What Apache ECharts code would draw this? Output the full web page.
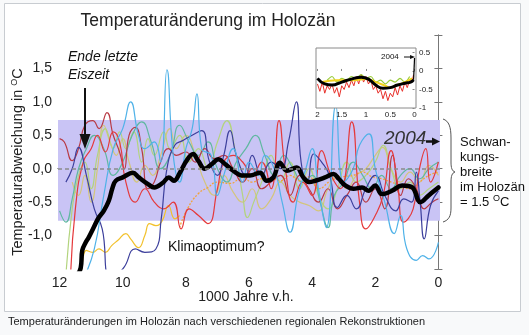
<!DOCTYPE html>
<html>
<head>
<meta charset="utf-8">
<script src="https://cdn.jsdelivr.net/npm/echarts@6/dist/echarts.min.js"></script>
<style>html,body{margin:0;padding:0;background:#f8f9fa;}#c{width:529px;height:335px;}</style>
</head>
<body>
<div id="c"></div>
<script>
// ---- tick labels ----
const xTicks = [0, 2, 4, 6, 8, 10, 12];
const yTicks = [-1.5, -1, -0.5, 0, 0.5, 1, 1.5, 2];
const yLabels = [-1, -0.5, 0, 0.5, 1, 1.5];
const insetXTicks = [0, 0.5, 1, 1.5, 2];
const insetYTicks = [-1, -0.5, 0, 0.5];

// ---- Holocene band (range of variation) ----
const bandTop = 0.73;
const bandBottom = -0.78;

// ---- regional reconstructions [kyr before present, deviation degC] ----
const lightBlue = [[11.2,-1.6],[10.9,-1.2],[10.6,-0.4],[10.3,0.3],[10.0,0.6],[9.75,1.0],[9.5,0.5],[9.3,0.3],[9.0,0.4],[8.8,0.1],[8.6,1.48],[8.4,0.2],[8.2,-0.2],[8.0,0.3],[7.8,0.6],[7.65,1.12],[7.5,0.3],[7.2,0.2],[7.0,-0.4],[6.8,-0.1],[6.5,0.3],[6.2,-0.2],[6.0,0.1],[5.7,-0.1],[5.5,0.2],[5.2,0.0],[4.95,-0.5],[4.7,-0.95],[4.45,-0.4],[4.2,0.0],[4.0,0.3],[3.8,-0.3],[3.55,-0.88],[3.25,0.95],[3.0,-0.2],[2.7,0.0],[2.5,0.35],[2.2,0.52],[2.0,0.0],[1.7,-0.5],[1.4,-0.97],[1.2,-0.7],[1.0,-1.2],[0.7,-1.37],[0.5,-1.3],[0.3,-1.35],[0.0,-1.1]];
const darkBlue = [[11.8,-0.2],[11.6,0.0],[11.4,0.32],[11.15,-0.1],[10.9,-0.6],[10.65,-0.9],[10.4,-1.6],[10.0,-1.5],[9.6,-1.2],[9.3,-1.25],[8.95,-1.2],[8.78,-0.75],[8.6,0.0],[8.35,0.35],[8.1,0.42],[7.8,0.5],[7.5,0.57],[7.25,0.1],[7.0,-0.1],[6.8,0.2],[6.6,0.57],[6.4,0.2],[6.1,-0.1],[5.9,0.2],[5.6,-0.1],[5.3,0.1],[5.0,0.0],[4.75,0.4],[4.5,1.0],[4.35,0.1],[4.15,-0.2],[3.95,0.22],[3.7,0.1],[3.45,-0.1],[3.2,-0.58],[2.9,-0.4],[2.6,-0.6],[2.3,-0.3],[2.0,-0.1],[1.7,-0.4],[1.35,-0.63],[1.1,-0.45],[0.85,-0.5],[0.7,-0.05],[0.58,-0.5],[0.45,-1.05],[0.25,-0.55],[0.0,-0.33]];
const brightRed = [[11.65,-1.6],[11.5,-0.6],[11.25,0.1],[11.0,0.3],[10.8,0.5],[10.55,0.25],[10.3,0.55],[10.1,0.4],[9.9,-0.2],[9.6,-0.5],[9.3,-0.3],[9.0,-0.5],[8.7,-0.6],[8.4,-0.5],[8.15,-0.9],[7.9,-0.6],[7.6,-0.7],[7.3,-0.82],[7.0,-0.3],[6.8,0.1],[6.5,0.2],[6.2,0.1],[5.9,-0.1],[5.6,0.1],[5.3,-0.3],[5.05,0.72],[4.85,0.0],[4.6,-0.5],[4.3,-0.2],[4.0,-0.4],[3.7,0.27],[3.4,-0.1],[3.1,-0.3],[2.75,0.7],[2.5,-0.5],[2.3,-0.9],[2.0,-0.7],[1.75,-0.4],[1.5,0.27],[1.3,-0.2],[1.1,-0.8],[0.8,-0.6],[0.6,0.0],[0.4,0.3],[0.25,-0.2],[0.0,0.1]];
const darkRed = [[12.0,0.45],[11.85,0.4],[11.6,0.12],[11.4,0.3],[11.2,0.65],[10.95,0.72],[10.75,0.6],[10.5,0.84],[10.3,0.5],[10.1,0.25],[9.95,0.0],[9.8,0.5],[9.6,0.62],[9.4,0.3],[9.2,-0.3],[9.0,-0.2],[8.8,0.1],[8.55,0.3],[8.3,0.2],[8.0,0.25],[7.7,0.1],[7.4,0.3],[7.1,0.15],[6.8,0.2],[6.5,0.0],[6.2,-0.2],[5.9,0.0],[5.6,-0.3],[5.3,-0.2],[5.0,-0.1],[4.7,-0.4],[4.4,-0.1],[4.1,-0.3],[3.8,-0.5],[3.5,-0.3],[3.2,-0.6],[2.9,-0.4],[2.6,-0.2],[2.3,-0.5],[2.0,-0.3],[1.7,-0.6],[1.45,0.2],[1.2,-0.4],[0.95,-0.15],[0.7,-0.3],[0.45,-0.6],[0.2,-0.5],[0.0,-0.45]];
const yellowEarly = [[11.3,-1.6],[11.15,-1.22],[10.95,-1.25],[10.75,-1.2],[10.55,-1.25],[10.35,-1.15],[10.15,-1.07],[9.9,-0.97],[9.75,-1.05],[9.5,-1.18],[9.3,-1.0],[9.15,-0.82],[8.95,-0.85],[8.75,-0.78],[8.55,-0.55],[8.35,-0.75],[8.2,-0.7]];
const orangeDotted = [[8.2,-0.88],[7.95,-0.6],[7.6,-0.37],[7.3,-0.28],[7.0,-0.2],[6.6,-0.22],[6.2,-0.13],[5.9,-0.2],[5.6,-0.15],[5.3,-0.15],[5.0,-0.18],[4.7,-0.1],[4.4,-0.18],[4.1,-0.12],[3.8,-0.3],[3.4,-0.18],[3.0,-0.12],[2.7,-0.1],[2.4,-0.05],[2.1,-0.12],[1.8,-0.15],[1.5,-0.2],[1.2,-0.25],[0.9,-0.3],[0.6,-0.2],[0.3,-0.1],[0.0,-0.05]];
const lightGreen = [[11.8,-1.6],[11.6,-0.6],[11.4,-0.1],[11.2,0.1],[11.0,-0.3],[10.8,0.2],[10.55,0.6],[10.3,0.3],[10.1,0.55],[9.9,0.3],[9.65,0.55],[9.4,0.1],[9.2,0.45],[9.0,0.2],[8.7,0.55],[8.5,0.3],[8.2,0.5],[7.9,0.1],[7.6,0.3],[7.3,0.0],[7.0,0.4],[6.7,0.72],[6.45,0.3],[6.2,-0.4],[6.05,-0.73],[5.85,-0.5],[5.6,-0.2],[5.3,0.2],[5.0,-0.2],[4.7,0.1],[4.4,-0.3],[4.1,0.0],[3.8,-0.4],[3.5,-0.6],[3.2,-0.3],[2.9,0.1],[2.6,-0.2],[2.3,-0.1],[2.0,0.1],[1.75,0.35],[1.5,0.0],[1.2,-0.3],[0.9,-0.2],[0.6,-0.4],[0.3,-0.3],[0.0,-0.2]];
const teal = [[12.0,-0.63],[11.8,-0.8],[11.6,-0.45],[11.4,0.0],[11.15,0.3],[10.9,0.5],[10.6,0.3],[10.3,-0.1],[10.0,0.1],[9.7,0.5],[9.4,0.7],[9.1,0.4],[8.8,0.0],[8.5,0.2],[8.2,0.65],[7.9,0.4],[7.6,0.2],[7.3,0.4],[7.0,0.0],[6.7,-0.2],[6.4,0.1],[6.1,0.3],[5.8,0.5],[5.5,0.2],[5.2,-0.1],[4.9,0.2],[4.6,0.0],[4.3,-0.2],[4.0,-0.1],[3.75,-0.5],[3.5,-0.88],[3.3,-0.4],[3.0,-0.2],[2.7,0.1],[2.4,-0.1],[2.1,-0.3],[1.8,-0.1],[1.5,-0.3],[1.2,-0.1],[0.9,0.0],[0.6,-0.15],[0.3,0.0],[0.0,0.1]];
const khaki = [[11.6,-0.2],[11.4,-0.4],[11.2,-0.1],[11.0,-0.5],[10.8,0.0],[10.6,0.65],[10.4,0.4],[10.2,0.2],[10.0,0.45],[9.8,0.1],[9.55,-0.2],[9.3,0.05],[9.05,-0.1],[8.8,0.2],[8.5,0.6],[8.3,0.3],[8.0,0.5],[7.7,0.2],[7.4,-0.2],[7.1,-0.4],[6.8,-0.1],[6.5,-0.35],[6.2,-0.5],[5.9,-0.3],[5.6,-0.6],[5.3,-0.45],[5.0,-0.2],[4.7,-0.4],[4.4,-0.5],[4.1,-0.55],[3.8,-0.63],[3.5,-0.3],[3.2,-0.1],[2.9,-0.3],[2.6,-0.1],[2.3,0.0],[2.0,0.2],[1.77,0.32],[1.5,0.0],[1.2,-0.2],[0.9,-0.05],[0.6,-0.2],[0.3,0.05],[0.0,-0.1]];
const meanBlack = [[11.45,-1.6],[11.33,-1.48],[11.28,-1.22],[11.17,-1.1],[11.08,-1.03],[10.92,-0.88],[10.76,-0.73],[10.6,-0.63],[10.44,-0.48],[10.32,-0.28],[10.22,-0.18],[10.0,-0.13],[9.68,-0.06],[9.49,-0.13],[9.2,-0.23],[9.0,-0.28],[8.73,-0.21],[8.54,-0.13],[8.38,-0.18],[8.19,-0.06],[7.98,0.12],[7.77,0.22],[7.61,0.12],[7.4,0.0],[7.18,0.07],[6.97,0.14],[6.76,0.07],[6.5,-0.03],[6.23,-0.1],[5.97,-0.1],[5.65,-0.06],[5.44,-0.18],[5.23,-0.13],[5.02,0.09],[4.8,-0.03],[4.49,0.02],[4.28,-0.13],[4.1,-0.2],[3.9,-0.18],[3.59,-0.13],[3.32,-0.08],[3.16,-0.15],[2.95,-0.25],[2.69,-0.3],[2.42,-0.28],[2.21,-0.33],[2.0,-0.25],[1.79,-0.38],[1.47,-0.33],[1.15,-0.25],[0.83,-0.28],[0.57,-0.5],[0.31,-0.4],[0.0,-0.28]];

// ---- inset: last 2000 years ----
const insetRed = [[2.0,-0.35],[1.95,-0.55],[1.9,-0.3],[1.85,-0.6],[1.8,-0.4],[1.75,-0.5],[1.7,-0.35],[1.65,-0.6],[1.6,-0.45],[1.55,-0.7],[1.5,-0.4],[1.45,-0.5],[1.4,-0.3],[1.35,-0.45],[1.3,-0.25],[1.25,-0.4],[1.2,-0.15],[1.15,-0.35],[1.1,-0.1],[1.05,-0.3],[1.0,-0.15],[0.95,-0.35],[0.9,-0.25],[0.85,-0.5],[0.8,-0.4],[0.75,-0.6],[0.7,-0.5],[0.65,-0.75],[0.6,-0.55],[0.55,-0.8],[0.5,-0.6],[0.45,-0.7],[0.4,-0.45],[0.35,-0.65],[0.3,-0.4],[0.25,-0.55],[0.2,-0.3],[0.15,-0.45],[0.1,-0.25],[0.05,-0.3],[0.02,-0.1]];
const insetGreen = [[1.8,-0.25],[1.7,-0.15],[1.6,-0.3],[1.5,-0.2],[1.4,-0.25],[1.3,-0.15],[1.2,-0.2],[1.1,-0.1],[1.0,-0.2],[0.9,-0.15],[0.8,-0.3],[0.7,-0.25],[0.6,-0.35],[0.5,-0.25],[0.4,-0.3],[0.3,-0.2],[0.2,-0.3],[0.1,-0.15]];
const insetYellow = [[1.9,-0.3],[1.6,-0.25],[1.3,-0.25],[1.0,-0.22],[0.8,-0.3],[0.6,-0.4],[0.5,-0.45],[0.4,-0.4],[0.2,-0.3],[0.05,-0.2]];
const insetBlack = [[2.0,-0.2],[1.85,-0.35],[1.7,-0.38],[1.5,-0.3],[1.3,-0.22],[1.1,-0.17],[0.95,-0.22],[0.8,-0.38],[0.65,-0.47],[0.5,-0.45],[0.35,-0.38],[0.2,-0.33],[0.08,-0.3],[0.02,-0.24]];
const insetSpike = [[0.02,-0.24],[0.0,0.35]];

const FONT = '"Liberation Sans", Arial, Helvetica, sans-serif';
const chart = echarts.init(document.getElementById('c'), null, {renderer: 'canvas'});

function thin(name, data, color, extra) {
  return Object.assign({
    name, type: 'line', data, xAxisIndex: 0, yAxisIndex: 0, smooth: 0.5,
    showSymbol: false, symbol: 'none', z: 2, silent: true,
    lineStyle: {color, width: 1.2}
  }, extra || {});
}
function inset(name, data, color, width, smooth) {
  return {name, type: 'line', data, xAxisIndex: 2, yAxisIndex: 2, smooth: smooth,
    showSymbol: false, symbol: 'none', z: 12, silent: true, lineStyle: {color, width}};
}

const fmtComma = v => (Math.round(v * 10) / 10).toFixed(1).replace('.', ',');
const BR = '#555';

const option = {
  animation: false,
  backgroundColor: '#f8f9fa',
  grid: [
    {left: 58, top: 35, width: 382, height: 234, show: false},
    {left: 316, top: 48, width: 100, height: 60, show: false}
  ],
  xAxis: [
    {type: 'value', gridIndex: 0, inverse: true, min: -0.05, max: 12.05, position: 'bottom',
     splitLine: {show: false}, axisLine: {show: true, lineStyle: {color: '#777', width: 1}},
     axisTick: {show: true, inside: true, length: 4, customValues: xTicks, lineStyle: {color: '#777'}},
     axisLabel: {customValues: xTicks, margin: 7, fontSize: 14, color: '#222', fontFamily: FONT, formatter: v => String(Math.round(v))}},
    {type: 'value', gridIndex: 0, inverse: true, min: -0.05, max: 12.05, position: 'top',
     splitLine: {show: false}, axisLine: {show: true, lineStyle: {color: '#777', width: 1}},
     axisTick: {show: true, inside: true, length: 4, customValues: xTicks, lineStyle: {color: '#777'}},
     axisLabel: {show: false}},
    {type: 'value', gridIndex: 1, inverse: true, min: -0.03, max: 2.03, position: 'bottom', z: 11,
     splitLine: {show: false}, axisLine: {show: false},
     axisTick: {show: true, inside: true, length: 2, customValues: insetXTicks, lineStyle: {color: '#888'}},
     axisLabel: {customValues: insetXTicks, margin: 3, fontSize: 8, color: '#222', fontFamily: FONT, formatter: v => String(v)}}
  ],
  yAxis: [
    {type: 'value', gridIndex: 0, min: -1.5, max: 2.0, position: 'left',
     splitLine: {show: false}, axisLine: {show: true, lineStyle: {color: '#777', width: 1}},
     axisTick: {show: true, inside: true, length: 4, customValues: yTicks, lineStyle: {color: '#777'}},
     axisLabel: {customValues: yLabels, margin: 6, fontSize: 14, color: '#222', fontFamily: FONT, formatter: fmtComma}},
    {type: 'value', gridIndex: 0, min: -1.5, max: 2.0, position: 'right',
     splitLine: {show: false}, axisLine: {show: true, lineStyle: {color: '#777', width: 1}},
     axisTick: {show: true, inside: true, length: 4, customValues: yTicks, lineStyle: {color: '#777'}},
     axisLabel: {show: false}},
    {type: 'value', gridIndex: 1, min: -1, max: 0.62, position: 'right', z: 11,
     splitLine: {show: false}, axisLine: {show: false},
     axisTick: {show: true, inside: true, length: 2, customValues: insetYTicks, lineStyle: {color: '#888'}},
     axisLabel: {customValues: insetYTicks, margin: 3, fontSize: 8, color: '#222', fontFamily: FONT, formatter: v => String(v)}}
  ],
  series: [
    {name: 'band', type: 'line', data: [], xAxisIndex: 0, yAxisIndex: 0, z: 1, silent: true,
     markArea: {silent: true, itemStyle: {color: '#c9c4f5'}, data: [[{yAxis: bandBottom}, {yAxis: bandTop}]]},
     markLine: {silent: true, symbol: 'none', label: {show: false},
       lineStyle: {color: '#8a8a8a', type: [4, 3], width: 1.5}, data: [{yAxis: 0}]}},
    thin('khaki', khaki, '#d4c57c'),
    thin('lightGreen', lightGreen, '#b3d47e'),
    thin('teal', teal, '#5fb8a0'),
    thin('yellowEarly', yellowEarly, '#f2c12c'),
    thin('orangeDotted', orangeDotted, '#f2a33a', {lineStyle: {color: '#f2a33a', width: 1.3, type: [2, 1.5]}}),
    thin('darkRed', darkRed, '#b83a44'),
    thin('brightRed', brightRed, '#e5393b'),
    thin('darkBlue', darkBlue, '#3c3f9c'),
    thin('lightBlue', lightBlue, '#4fb2e8'),
    {name: 'mean', type: 'line', data: meanBlack, xAxisIndex: 0, yAxisIndex: 0, smooth: 0.4,
     showSymbol: false, symbol: 'none', z: 3, silent: true,
     lineStyle: {color: '#000', width: 4.5, cap: 'round', join: 'round'}},
    inset('insetRed', insetRed, '#e8302a', 1, false),
    inset('insetGreen', insetGreen, '#9acd3c', 1.2, 0.3),
    inset('insetYellow', insetYellow, '#f2d21c', 2, 0.5),
    inset('insetBlack', insetBlack, '#000', 3, 0.5),
    inset('insetSpike', insetSpike, '#000', 1.2, false)
  ],
  graphic: {elements: [
    {type: 'rect', z: -10, shape: {x: 4.5, y: 3.5, width: 516, height: 308},
     style: {fill: '#ffffff', stroke: '#c8ccd1', lineWidth: 1}},
    {type: 'rect', z: 5, shape: {x: 316, y: 48, width: 100, height: 60},
     style: {fill: '#ffffff', stroke: '#8a8a8a', lineWidth: 1}},
    {type: 'text', z: 20, x: 208, y: 21,
     style: {text: 'Temperaturänderung im Holozän', font: '17.5px ' + FONT, fill: '#222', align: 'center', verticalAlign: 'middle'}},
    {type: 'text', z: 20, x: 18, y: 162, rotation: Math.PI / 2,
     style: {text: 'Temperaturabweichung in {sup|O}C', font: '14.5px ' + FONT, fill: '#222', align: 'center', verticalAlign: 'middle',
       rich: {sup: {font: '9px ' + FONT, fill: '#222', padding: [0, 0, 7, 0]}}}},
    {type: 'text', z: 20, x: 246, y: 297,
     style: {text: '1000 Jahre v.h.', font: '14px ' + FONT, fill: '#222', align: 'center', verticalAlign: 'middle'}},
    {type: 'text', z: 20, x: 8, y: 322,
     style: {text: 'Temperaturänderungen im Holozän nach verschiedenen regionalen Rekonstruktionen', font: '11px ' + FONT, fill: '#202122', align: 'left', verticalAlign: 'middle'}},
    {type: 'text', z: 20, x: 68, y: 57,
     style: {text: 'Ende letzte', font: 'italic 14px ' + FONT, fill: '#111', align: 'left', verticalAlign: 'middle'}},
    {type: 'text', z: 20, x: 68, y: 75,
     style: {text: 'Eiszeit', font: 'italic 14px ' + FONT, fill: '#111', align: 'left', verticalAlign: 'middle'}},
    {type: 'line', z: 20, shape: {x1: 85, y1: 88, x2: 85, y2: 137}, style: {stroke: '#111', lineWidth: 2}},
    {type: 'polygon', z: 20, shape: {points: [[79.5, 134], [90.5, 134], [85, 149]]}, style: {fill: '#111'}},
    {type: 'text', z: 20, x: 168, y: 247,
     style: {text: 'Klimaoptimum?', font: '14px ' + FONT, fill: '#111', align: 'left', verticalAlign: 'middle'}},
    {type: 'text', z: 20, x: 384, y: 139,
     style: {text: '2004', font: 'italic 19px ' + FONT, fill: '#333', align: 'left', verticalAlign: 'middle'}},
    {type: 'line', z: 20, shape: {x1: 426, y1: 141.5, x2: 434, y2: 141.5}, style: {stroke: '#111', lineWidth: 2.5}},
    {type: 'polygon', z: 20, shape: {points: [[432, 137.5], [432, 145.5], [440, 141.5]]}, style: {fill: '#111'}},
    {type: 'text', z: 20, x: 381, y: 57,
     style: {text: '2004', font: '8px ' + FONT, fill: '#111', align: 'left', verticalAlign: 'middle'}},
    {type: 'line', z: 20, shape: {x1: 404, y1: 57, x2: 411, y2: 57}, style: {stroke: '#111', lineWidth: 1}},
    {type: 'polygon', z: 20, shape: {points: [[410, 55], [410, 59], [415, 57]]}, style: {fill: '#111'}},
    {type: 'bezierCurve', z: 20, shape: {x1: 443, y1: 119, cpx1: 449, cpy1: 121, cpx2: 451, cpy2: 127, x2: 451, y2: 138}, style: {fill: null, stroke: BR, lineWidth: 1}},
    {type: 'line', z: 20, shape: {x1: 451, y1: 138, x2: 451, y2: 162}, style: {stroke: BR, lineWidth: 1}},
    {type: 'bezierCurve', z: 20, shape: {x1: 451, y1: 162, cpx1: 451, cpy1: 168, cpx2: 452, cpy2: 171, x2: 455, y2: 172}, style: {fill: null, stroke: BR, lineWidth: 1}},
    {type: 'bezierCurve', z: 20, shape: {x1: 455, y1: 172, cpx1: 452, cpy1: 173, cpx2: 451, cpy2: 176, x2: 451, y2: 182}, style: {fill: null, stroke: BR, lineWidth: 1}},
    {type: 'line', z: 20, shape: {x1: 451, y1: 182, x2: 451, y2: 208}, style: {stroke: BR, lineWidth: 1}},
    {type: 'bezierCurve', z: 20, shape: {x1: 451, y1: 208, cpx1: 451, cpy1: 216, cpx2: 449, cpy2: 220, x2: 443, y2: 222}, style: {fill: null, stroke: BR, lineWidth: 1}},
    {type: 'text', z: 20, x: 460, y: 142,
     style: {text: 'Schwan-', font: '13px ' + FONT, fill: '#111', align: 'left', verticalAlign: 'middle'}},
    {type: 'text', z: 20, x: 460, y: 157,
     style: {text: 'kungs-', font: '13px ' + FONT, fill: '#111', align: 'left', verticalAlign: 'middle'}},
    {type: 'text', z: 20, x: 460, y: 172,
     style: {text: 'breite', font: '13px ' + FONT, fill: '#111', align: 'left', verticalAlign: 'middle'}},
    {type: 'text', z: 20, x: 460, y: 187,
     style: {text: 'im Holozän', font: '13px ' + FONT, fill: '#111', align: 'left', verticalAlign: 'middle'}},
    {type: 'text', z: 20, x: 460, y: 202,
     style: {text: '= 1.5 {sup|O}C', font: '13px ' + FONT, fill: '#111', align: 'left', verticalAlign: 'middle',
       rich: {sup: {font: '9px ' + FONT, fill: '#111', padding: [0, 0, 6, 0]}}}}
  ]}
};
chart.setOption(option);
</script>
</body>
</html>
